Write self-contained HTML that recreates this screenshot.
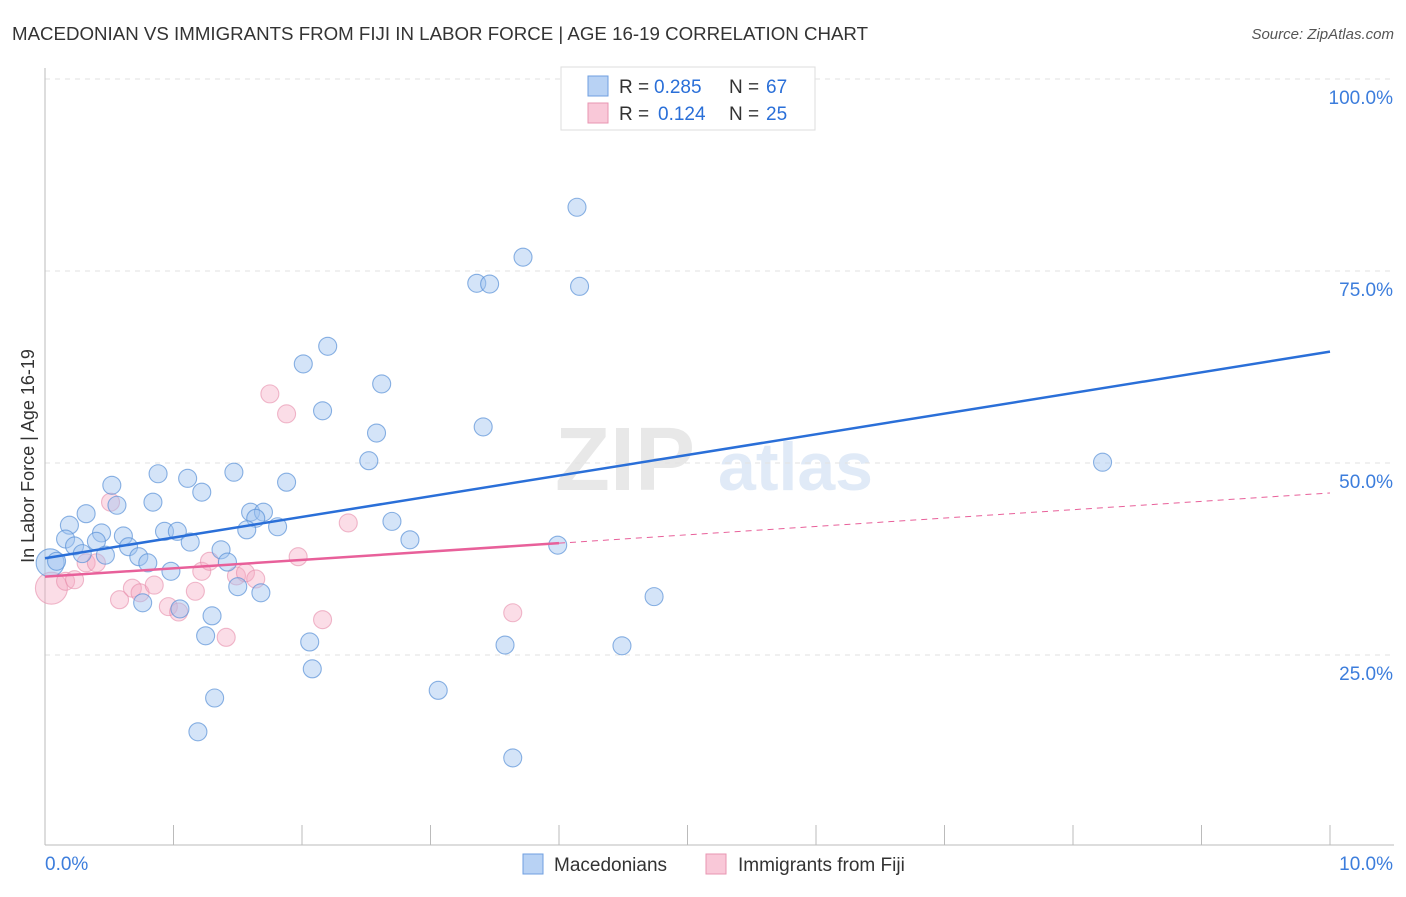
<!DOCTYPE html>
<html><head><meta charset="utf-8"><style>
body{margin:0;background:#fff;font-family:"Liberation Sans",sans-serif;}
svg text{font-family:"Liberation Sans",sans-serif;}
</style></head><body>
<svg id="chart" width="1406" height="892" xmlns="http://www.w3.org/2000/svg">
<text x="12" y="40" font-size="18" fill="#333" textLength="856" lengthAdjust="spacingAndGlyphs">MACEDONIAN VS IMMIGRANTS FROM FIJI IN LABOR FORCE | AGE 16-19 CORRELATION CHART</text>
<text x="1394" y="39" font-size="15" fill="#555" text-anchor="end" font-style="italic">Source: ZipAtlas.com</text>
<g><text x="555" y="490" font-size="90" fill="#e8e8e8" font-family="Liberation Serif" font-weight="bold">ZIP</text><text x="718" y="490" font-size="68" fill="#e0eaf7" font-weight="bold">atlas</text></g>
<g id="grid"></g>
<g id="axes"></g>
<g id="marks"></g>
<text transform="translate(34,456) rotate(-90)" font-size="18" fill="#333" text-anchor="middle">In Labor Force | Age 16-19</text>
<g>
<rect x="561" y="67" width="254" height="63" fill="#fff" stroke="#ddd"/>
<rect x="588" y="76" width="20" height="20" fill="#b8d2f4" stroke="#6f9fe0"/>
<text x="619" y="93" font-size="19" fill="#333">R =</text>
<text x="654" y="93" font-size="19" fill="#2a6fd8">0.285</text>
<text x="729" y="93" font-size="19" fill="#333">N =</text>
<text x="766" y="93" font-size="19" fill="#2a6fd8">67</text>
<rect x="588" y="103" width="20" height="20" fill="#f9c8d8" stroke="#e896b2"/>
<text x="619" y="120" font-size="19" fill="#333">R =</text>
<text x="658" y="120" font-size="19" fill="#2a6fd8">0.124</text>
<text x="729" y="120" font-size="19" fill="#333">N =</text>
<text x="766" y="120" font-size="19" fill="#2a6fd8">25</text>
</g>
<g>
<rect x="523" y="854" width="20" height="20" fill="#b8d2f4" stroke="#6f9fe0"/>
<text x="554" y="871" font-size="19" fill="#333">Macedonians</text>
<rect x="706" y="854" width="20" height="20" fill="#f9c8d8" stroke="#e896b2"/>
<text x="738" y="871" font-size="19" fill="#333">Immigrants from Fiji</text>
</g>
</svg>
<script>
const yTicks=[25,50,75,100];
const yTickLabels=["25.0%","50.0%","75.0%","100.0%"];
const xEndLabels=["0.0%","10.0%"];
const blueX=[4.14,3.72,3.36,3.46,4.16,2.20,2.01,2.62,2.16,2.58,3.41,2.52,8.23,0.88,1.11,1.47,1.88,0.52,1.22,0.84,0.56,0.32,1.60,1.70,1.64,0.19,2.70,1.81,0.93,1.03,1.57,0.44,0.61,0.16,2.84,0.40,1.13,0.23,0.65,1.37,0.29,0.47,0.73,3.99,0.80,1.42,0.09,0.98,1.50,1.68,4.74,0.76,1.05,1.30,1.25,2.06,3.58,4.49,2.08,1.32,3.06,1.19,3.64];
const blueY=[83.3,76.8,73.4,73.3,73.0,65.2,62.9,60.3,56.8,53.9,54.7,50.3,50.1,48.6,48.0,48.8,47.5,47.1,46.2,44.9,44.5,43.4,43.6,43.6,42.8,41.9,42.4,41.7,41.1,41.1,41.3,40.9,40.5,40.1,40.0,39.8,39.7,39.2,39.1,38.7,38.2,38.0,37.8,39.3,37.0,37.1,37.2,35.9,33.9,33.1,32.6,31.8,31.0,30.1,27.5,26.7,26.3,26.2,23.2,19.4,20.4,15.0,11.6];
const pinkX=[1.75,1.88,2.36,0.51,0.16,0.23,0.32,0.40,0.58,0.68,0.74,0.85,0.96,1.04,1.17,1.22,1.28,1.41,1.49,1.56,1.64,1.97,2.16,3.64];
const pinkY=[59.0,56.4,42.2,44.9,34.6,34.8,37.0,37.0,32.2,33.7,33.1,34.1,31.3,30.6,33.3,35.9,37.2,27.3,35.3,35.7,34.9,37.8,29.6,30.5];
const bigBlue=[0.04,37.0];
const bigPink=[0.05,33.7];
const blueTrend=[37.6,64.5];
const pinkTrend=[35.2,46.1];
const pinkSolidEnd=4.0;
const X0=45,X1=1330,Ybot=847,Ytop=79;
const sx=v=>X0+(X1-X0)*v/10;
const sy=v=>Ybot-(Ybot-Ytop)*v/100;
const NS="http://www.w3.org/2000/svg";
function mk(tag,attrs,parent){const e=document.createElementNS(NS,tag);for(const k in attrs)e.setAttribute(k,attrs[k]);document.getElementById(parent).appendChild(e);return e;}
yTicks.forEach((t,i)=>{
 const g=mk('line',{x1:45,x2:1394,y1:sy(t),y2:sy(t),stroke:'#e2e2e2','stroke-dasharray':'5,5'},'grid');
 
 
 const l=mk('text',{x:1393,y:sy(t)+25,'font-size':19,fill:'#3c7ddc','text-anchor':'end'},'grid');
 l.textContent=yTickLabels[i];
 
 
});
mk('line',{x1:45,x2:45,y1:68,y2:845,stroke:'#bbb'},'axes');
mk('line',{x1:45,x2:1394,y1:845,y2:845,stroke:'#bbb'},'axes');
for(let i=0;i<=10;i++){const t=mk('line',{x1:sx(i),x2:sx(i),y1:825,y2:845,stroke:'#bbb'},'axes');}
const xl0=mk('text',{x:45,y:870,'font-size':19,fill:'#3c7ddc'},'axes');xl0.textContent=xEndLabels[0];


const xl1=mk('text',{x:1393,y:870,'font-size':19,fill:'#3c7ddc','text-anchor':'end'},'axes');xl1.textContent=xEndLabels[1];


function dot(x,y,r,fill,stroke,name){const c=mk('circle',{cx:sx(x),cy:sy(y),r:r,fill:fill,stroke:stroke,'stroke-width':1.1},'marks');

}
dot(bigPink[0],bigPink[1],16,'rgba(245,170,195,0.4)','rgba(230,140,170,0.6)','point-fiji');
dot(bigBlue[0],bigBlue[1],14,'rgba(160,195,240,0.5)','rgba(90,145,215,0.7)','point-macedonian');
pinkX.forEach((x,i)=>dot(x,pinkY[i],9,'rgba(245,170,195,0.4)','rgba(230,140,170,0.6)','point-fiji'));
blueX.forEach((x,i)=>dot(x,blueY[i],9,'rgba(160,195,240,0.45)','rgba(90,145,215,0.7)','point-macedonian'));
const bl=mk('line',{x1:sx(0),y1:sy(blueTrend[0]),x2:sx(10),y2:sy(blueTrend[1]),stroke:'#2a6fd8','stroke-width':2.5},'marks');


const pm=pinkTrend[0]+(pinkTrend[1]-pinkTrend[0])*pinkSolidEnd/10;
const pl=mk('line',{x1:sx(0),y1:sy(pinkTrend[0]),x2:sx(pinkSolidEnd),y2:sy(pm),stroke:'#e8609a','stroke-width':2.5},'marks');


const pd=mk('line',{x1:sx(pinkSolidEnd),y1:sy(pm),x2:sx(10),y2:sy(pinkTrend[1]),stroke:'#e8609a','stroke-width':1,'stroke-dasharray':'6,5'},'marks');


</script>
</body></html>
